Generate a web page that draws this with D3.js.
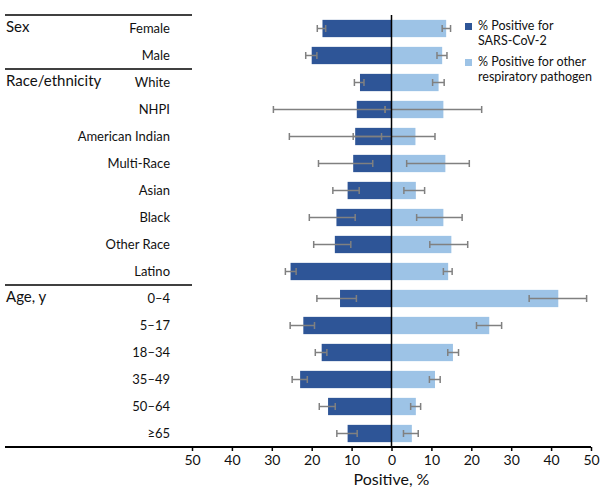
<!DOCTYPE html>
<html lang="en">
<head>
    <meta charset="UTF-8">
    <title>Percent positive by group</title>
    <script src="https://d3js.org/d3.v7.min.js"></script>
    <style>
        body { margin: 0; background: #fff; }
        text { font-family: Lato, "Open Sans", sans-serif; fill: #111; }
        .cat { font-size: 13px; }
        .grp { font-size: 15px; }
        .tick text { font-size: 14px; }
        .legend text { font-size: 12.5px; }
        .err { stroke: #808080; stroke-width: 1.5px; fill: none; }
    </style>
</head>
<body>
    <svg width="600" height="493"></svg>

    <script>
        // categories, top to bottom
        const categories = ["Female", "Male", "White", "NHPI", "American Indian", "Multi-Race", "Asian",
            "Black", "Other Race", "Latino", "0–4", "5–17", "18–34", "35–49", "50–64", "≥65"];
        const groupNames = ["Sex", "Race/ethnicity", "Age, y"];
        const groupFirst = ["Female", "White", "0–4"];

        // % positive for SARS-CoV-2 (drawn to the left) with CI
        const covid = [17.3, 20.0, 7.9, 8.7, 9.1, 9.6, 11.0, 13.8, 14.2, 25.3, 12.9, 22.1, 17.5, 22.9, 15.9, 11.0];
        const covidLo = [16.5, 18.7, 6.9, 1.6, 2.5, 4.7, 8.1, 9.1, 10.2, 23.9, 8.8, 19.3, 16.2, 21.1, 14.1, 8.6];
        const covidHi = [18.6, 21.5, 9.3, 29.6, 25.6, 18.3, 14.7, 20.6, 19.5, 26.6, 18.7, 25.4, 19.1, 24.9, 18.1, 13.7];

        // % positive for other respiratory pathogen (drawn to the right) with CI
        const other = [13.7, 12.7, 11.8, 13.0, 6.0, 13.5, 6.1, 13.0, 15.0, 14.2, 41.8, 24.5, 15.4, 10.9, 6.1, 5.1];
        const otherLo = [12.7, 11.4, 10.3, -1.6, -9.6, 3.8, 3.1, 6.3, 9.6, 13.0, 34.5, 21.3, 14.1, 9.5, 4.8, 3.0];
        const otherHi = [14.8, 13.9, 13.2, 22.6, 10.9, 19.5, 8.3, 17.7, 19.1, 15.2, 48.9, 27.6, 16.8, 12.2, 7.3, 6.7];

        const xTicks = [-50, -40, -30, -20, -10, 0, 10, 20, 30, 40, 50];
        const legendLabels = [["% Positive for", "SARS-CoV-2"], ["% Positive for other", "respiratory pathogen"]];

        const darkBlue = "#2e5597";
        const lightBlue = "#9dc3e6";

        const svg = d3.select("svg");

        const x = d3.scaleLinear().domain([-50, 50]).range([192, 591]);
        const y = d3.scaleBand().domain(categories).range([15, 447]).paddingInner(0.36).paddingOuter(0.18);
        const step = y.step();
        const rowTop = c => y(c) - (step - y.bandwidth()) / 2;   // top of row slot

        // bars
        svg.selectAll(".bar-covid")
            .data(categories)
            .enter().append("rect")
            .attr("x", (d, i) => x(-covid[i]))
            .attr("y", d => y(d))
            .attr("width", (d, i) => x(0) - x(-covid[i]))
            .attr("height", y.bandwidth())
            .attr("fill", darkBlue);

        svg.selectAll(".bar-other")
            .data(categories)
            .enter().append("rect")
            .attr("x", x(0))
            .attr("y", d => y(d))
            .attr("width", (d, i) => x(other[i]) - x(0))
            .attr("height", y.bandwidth())
            .attr("fill", lightBlue);

        // error bars
        function errorBars(lo, hi, sign) {
            const g = svg.append("g");
            categories.forEach((c, i) => {
                const cy = y(c) + y.bandwidth() / 2;
                const x1 = x(sign * lo[i]), x2 = x(sign * hi[i]);
                g.append("line").attr("class", "err").attr("x1", x1).attr("x2", x2).attr("y1", cy).attr("y2", cy);
                [x1, x2].forEach(xx => g.append("line").attr("class", "err")
                    .attr("x1", xx).attr("x2", xx).attr("y1", cy - 3.5).attr("y2", cy + 3.5));
            });
        }
        errorBars(covidLo, covidHi, -1);
        errorBars(otherLo, otherHi, 1);

        // zero line
        svg.append("line")
            .attr("x1", x(0)).attr("x2", x(0))
            .attr("y1", 15).attr("y2", 447)
            .attr("stroke", "#000").attr("stroke-width", 1.5);

        // x axis
        const axis = svg.append("g")
            .attr("transform", "translate(0,447)")
            .call(d3.axisBottom(x).tickValues(xTicks).tickFormat(d => Math.abs(d)).tickSize(4).tickPadding(4));
        axis.select(".domain").remove();
        axis.selectAll(".tick line").attr("stroke", "#000").attr("stroke-width", 1.5);
        axis.selectAll(".tick text").attr("fill", "#111");

        svg.append("line")
            .attr("x1", 5).attr("x2", 591)
            .attr("y1", 447).attr("y2", 447)
            .attr("stroke", "#000").attr("stroke-width", 1.8);

        svg.append("text")
            .attr("x", x(0)).attr("y", 485)
            .attr("text-anchor", "middle")
            .style("font-size", "16px")
            .text("Positive, %");

        // category labels
        svg.selectAll(".cat")
            .data(categories)
            .enter().append("text")
            .attr("class", "cat")
            .attr("x", 170)
            .attr("y", d => y(d) + y.bandwidth() / 2 + 4.6)
            .attr("text-anchor", "end")
            .text(d => d);

        // group labels and separators
        groupNames.forEach((g, i) => {
            const c = groupFirst[i];
            svg.append("line")
                .attr("x1", 5).attr("x2", 192)
                .attr("y1", rowTop(c)).attr("y2", rowTop(c))
                .attr("stroke", "#000").attr("stroke-width", 1.5);
            svg.append("text")
                .attr("class", "grp")
                .attr("x", 6)
                .attr("y", y(c) + y.bandwidth() / 2 + 3.5)
                .text(g);
        });

        // legend
        const legend = svg.append("g").attr("class", "legend");
        [darkBlue, lightBlue].forEach((col, i) => {
            const ly = 23 + i * 36;
            legend.append("rect").attr("x", 465).attr("y", ly).attr("width", 7).attr("height", 7).attr("fill", col);
            legendLabels[i].forEach((t, j) => {
                legend.append("text").attr("x", 478).attr("y", ly + 7 + j * 15).text(t);
            });
        });
    </script>
</body>
</html>
